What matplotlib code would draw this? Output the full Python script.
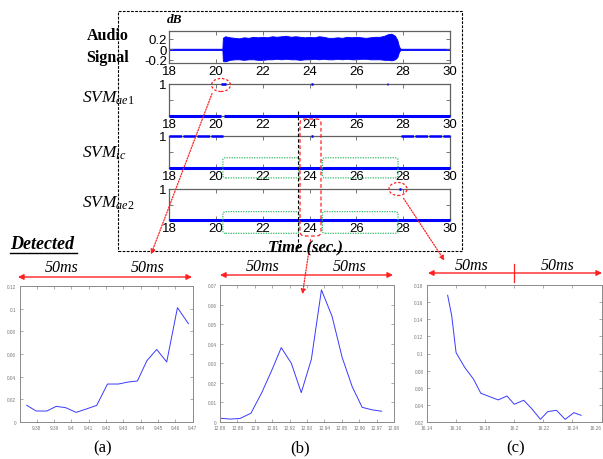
import matplotlib
matplotlib.use('Agg')
import matplotlib.pyplot as plt
from matplotlib.patches import FancyBboxPatch, Ellipse, Rectangle
from matplotlib.lines import Line2D

plt.rcParams['mathtext.fontset'] = 'custom'
plt.rcParams['mathtext.it'] = 'Liberation Serif:italic'
plt.rcParams['mathtext.rm'] = 'Liberation Serif'
plt.rcParams['font.family'] = ['Liberation Sans', 'DejaVu Sans']

# ---------------- data ----------------
time_ticks = [18, 20, 22, 24, 26, 28, 30]
time_labels = ['18', '20', '22', '24', '26', '28', '30']

audio_t = [18, 20.28, 20.30, 20.4, 20.6, 20.8, 21.0, 21.2, 21.4, 21.6, 21.8, 22.0,
           22.2, 22.4, 22.6, 22.8, 23.0, 23.2, 23.4, 23.6, 23.8, 24.0, 24.2, 24.4,
           24.6, 24.8, 25.0, 25.2, 25.4, 25.6, 25.8, 26.0, 26.2, 26.4, 26.6, 26.8,
           27.0, 27.2, 27.35, 27.5, 27.65, 27.75, 27.82, 27.88, 30]
audio_hi = [0.012, 0.012, 0.22, 0.25, 0.23, 0.22, 0.21, 0.23, 0.22, 0.24, 0.23, 0.24,
            0.23, 0.25, 0.24, 0.25, 0.26, 0.24, 0.25, 0.24, 0.23, 0.24, 0.23, 0.25,
            0.24, 0.22, 0.22, 0.23, 0.22, 0.24, 0.23, 0.24, 0.23, 0.22, 0.23, 0.24,
            0.24, 0.26, 0.29, 0.30, 0.26, 0.18, 0.06, 0.012, 0.012]
audio_lo = [-0.012, -0.012, -0.22, -0.23, -0.20, -0.19, -0.19, -0.20, -0.19, -0.19, -0.20, -0.20,
            -0.19, -0.19, -0.18, -0.19, -0.18, -0.19, -0.19, -0.20, -0.19, -0.19, -0.18, -0.19,
            -0.18, -0.19, -0.19, -0.18, -0.19, -0.18, -0.19, -0.19, -0.18, -0.18, -0.19, -0.19,
            -0.19, -0.20, -0.20, -0.21, -0.19, -0.15, -0.05, -0.012, -0.012]

svm_ae1_high = [(20.2, 20.42), (24.08, 24.16), (27.3, 27.36)]
svm_ae1_low = [(18, 20.22), (20.36, 30)]
svm_ic_high = [(18, 20.3), (24.08, 24.14), (27.9, 30)]
svm_ic_low = [(18, 30)]
svm_ae2_high = [(27.82, 27.9)]
svm_ae2_low = [(18, 30)]

green_boxes = [(20.3, 23.55), (24.55, 27.78)]

a_x = [9.3742, 9.3796, 9.3858, 9.3912, 9.3967, 9.4027, 9.4092, 9.4146, 9.4208,
       9.4271, 9.4329, 9.4381, 9.4435, 9.4492, 9.4550, 9.4612, 9.4675]
a_y = [0.0147, 0.0097, 0.0097, 0.0138, 0.0126, 0.0085, 0.0118, 0.0147, 0.0335,
       0.0335, 0.0353, 0.0362, 0.0540, 0.0640, 0.0530, 0.1009, 0.0868]
a_xticks = [9.38, 9.39, 9.40, 9.41, 9.42, 9.43, 9.44, 9.45, 9.46, 9.47]
a_xlabels = ['9.38', '9.39', '9.4', '9.41', '9.42', '9.43', '9.44', '9.45', '9.46', '9.47']
a_yticks = [0, 0.02, 0.04, 0.06, 0.08, 0.10, 0.12]
a_ylabels = ['0', '0.02', '0.04', '0.06', '0.08', '0.1', '0.12']

b_x = [12.8806, 12.8858, 12.8915, 12.8978, 12.9040, 12.9098, 12.9152, 12.9210, 12.9267,
       12.9325, 12.9383, 12.9444, 12.9502, 12.9560, 12.9617, 12.9675, 12.9729]
b_y = [0.0019, 0.0015, 0.0018, 0.0045, 0.0150, 0.0265, 0.0380, 0.0300, 0.0150,
       0.0320, 0.0675, 0.0540, 0.0330, 0.0180, 0.0075, 0.0062, 0.0055]
b_xticks = [12.88, 12.89, 12.90, 12.91, 12.92, 12.93, 12.94, 12.95, 12.96, 12.97, 12.98]
b_xlabels = ['12.88', '12.89', '12.9', '12.91', '12.92', '12.93', '12.94', '12.95',
             '12.96', '12.97', '12.98']
b_yticks = [0, 0.01, 0.02, 0.03, 0.04, 0.05, 0.06, 0.07]
b_ylabels = ['0', '0.01', '0.02', '0.03', '0.04', '0.05', '0.06', '0.07']

c_x = [16.1542, 16.1570, 16.1600, 16.1660, 16.1720, 16.1770, 16.1835, 16.1890, 16.1950,
       16.2000, 16.2065, 16.2120, 16.2180, 16.2230, 16.2290, 16.2350, 16.2410, 16.2460]
c_y = [0.168, 0.144, 0.101, 0.0836, 0.070, 0.0536, 0.0493, 0.0458, 0.0504,
       0.0407, 0.0454, 0.0356, 0.0231, 0.0321, 0.0337, 0.0231, 0.0309, 0.0278]
c_xticks = [16.14, 16.16, 16.18, 16.20, 16.22, 16.24, 16.26]
c_xlabels = ['16.14', '16.16', '16.18', '16.2', '16.22', '16.24', '16.26']
c_yticks = [0.02, 0.04, 0.06, 0.08, 0.10, 0.12, 0.14, 0.16, 0.18]
c_ylabels = ['0.02', '0.04', '0.06', '0.08', '0.1', '0.12', '0.14', '0.16', '0.18']

# ---------------- layout helpers ----------------
W, H = 603, 460
fig = plt.figure(figsize=(6.03, 4.60), dpi=100)


def fx(x):
    return x / W


def fy(y):
    return 1 - y / H


def ax_px(x0, y0, x1, y1):
    return fig.add_axes([x0 / W, 1 - y1 / H, (x1 - x0) / W, (y1 - y0) / H])


SERIF = ['Liberation Serif', 'DejaVu Serif']
BLUE = '#0000ff'
RED = '#ff2020'

# ---------------- top panel ----------------
top_x0, top_x1 = 169, 450
rows = [(32, 64), (85, 117), (137, 169), (190, 221)]


def style_top(ax):
    ax.set_xlim(18, 30)
    ax.set_xticks(time_ticks)
    ax.set_xticklabels(time_labels)
    for s in ax.spines.values():
        s.set_color('#606060')
        s.set_linewidth(0.9)
    ax.tick_params(direction='in', length=3, width=0.6, top=True, right=True,
                   labelsize=9.5, pad=1.5, colors='#606060', labelcolor='black')
    for lab in ax.get_xticklabels() + ax.get_yticklabels():
        lab.set_fontfamily('Liberation Sans')


ax0 = ax_px(top_x0, rows[0][0], top_x1, rows[0][1])
ax0.fill_between(audio_t, audio_lo, audio_hi, color=BLUE, lw=0.6, edgecolor=BLUE)
ax0.set_ylim(-0.26, 0.35)
ax0.set_yticks([-0.2, 0, 0.2])
ax0.set_yticklabels(['-0.2', '0', '0.2'])
style_top(ax0)

svm_sets = [(svm_ae1_high, svm_ae1_low), (svm_ic_high, svm_ic_low), (svm_ae2_high, svm_ae2_low)]
svm_axes = []
for i, (hi, lo) in enumerate(svm_sets):
    ax = ax_px(top_x0, rows[i + 1][0], top_x1, rows[i + 1][1])
    for (s, e) in lo:
        ax.plot([s, e], [0, 0], color=BLUE, lw=2.2, solid_capstyle='butt', clip_on=False, zorder=3)
    for (s, e) in hi:
        ls = (0, (5, 0.6)) if (e - s) > 1 else '-'
        ax.plot([s, e], [1, 1], color=BLUE, lw=1.8, linestyle=ls, solid_capstyle='butt',
                clip_on=False, zorder=3)
    ax.set_ylim(0, 1)
    ax.set_yticks([0, 0.5, 1])
    ax.set_yticklabels(['', '', '1'])
    style_top(ax)
    svm_axes.append(ax)

# green dotted rounded boxes on SVM_ic and SVM_ae2
for ax, (yb, yt) in [(svm_axes[1], (-0.31, 0.32)), (svm_axes[2], (-0.43, 0.27))]:
    for (s, e) in green_boxes:
        p = FancyBboxPatch((s, yb), e - s, yt - yb,
                           boxstyle='round,pad=0,rounding_size=0.12', mutation_aspect=0.6,
                           transform=ax.transData, fill=False, edgecolor='#33bb66',
                           linestyle=(0, (1, 1)), lw=0.9, clip_on=False, zorder=4)
        ax.add_patch(p)

# outer dashed box
fig.add_artist(Rectangle((fx(118), fy(252)), (462 - 118) / W, (252 - 12) / H,
                         transform=fig.transFigure, fill=False, edgecolor='black',
                         linestyle=(0, (2.5, 1.2)), lw=0.8))

# black dashed vertical line and red dashed box around 24
fig.add_artist(Line2D([fx(298), fx(298)], [fy(112), fy(250)], transform=fig.transFigure,
                      color='black', lw=0.8, linestyle=(0, (3, 2))))
fig.add_artist(FancyBboxPatch((fx(300), fy(237)), 21 / W, (237 - 120) / H,
                              boxstyle='round,pad=0,rounding_size=0.008', mutation_aspect=1.3,
                              transform=fig.transFigure, fill=False, edgecolor=RED,
                              linestyle=(0, (3, 2)), lw=0.9))

# red ellipses
fig.add_artist(Ellipse((fx(221), fy(86)), 19 / W, 13 / H, transform=fig.transFigure,
                       fill=False, edgecolor=RED, linestyle=(0, (2, 1.5)), lw=0.9))
fig.add_artist(Ellipse((fx(398), fy(190)), 18 / W, 13 / H, transform=fig.transFigure,
                       fill=False, edgecolor=RED, linestyle=(0, (2, 1.5)), lw=0.9))

# dotted red arrows
for (x0, y0, x1, y1) in [(213, 92, 150, 258), (311, 238, 302, 298), (402, 197, 446, 264)]:
    fig.add_artist(matplotlib.patches.FancyArrowPatch(
        (fx(x0), fy(y0)), (fx(x1), fy(y1)), transform=fig.transFigure,
        arrowstyle='-|>', mutation_scale=7, color=RED, lw=0.9, linestyle=(0, (1, 1.2))))

# labels of the top panel
fig.text(fx(108), fy(36), 'Audio', fontfamily=SERIF, fontweight='bold', fontsize=11.5,
         ha='center', va='center')
fig.text(fx(108), fy(58), 'Signal', fontfamily=SERIF, fontweight='bold', fontsize=11.5,
         ha='center', va='center')
for txt, yy in [(r'$SVM_{ae1}$', 98), (r'$SVM_{ic}$', 153), (r'$SVM_{ae2}$', 203)]:
    fig.text(fx(82), fy(yy), txt, fontsize=12.5, ha='left', va='center')
fig.text(fx(167), fy(20), 'dB', fontfamily=SERIF, fontweight='bold', fontstyle='italic',
         fontsize=9.5, ha='left', va='center')
fig.text(fx(305), fy(247), 'Time (sec.)', fontfamily=SERIF, fontweight='bold',
         fontstyle='italic', fontsize=12, ha='center', va='center')

fig.text(fx(10), fy(245), 'Detected', fontfamily=SERIF, fontweight='bold',
         fontstyle='italic', fontsize=13, ha='left', va='center')
fig.add_artist(Line2D([fx(10), fx(77)], [fy(254), fy(254)], transform=fig.transFigure,
                      color='black', lw=1.0))

# ---------------- bottom panels ----------------
bottom = [
    ((19.5, 287, 192.7, 423), a_x, a_y, (9.37, 9.47), (0, 0.12), a_xticks, a_xlabels, a_yticks, a_ylabels),
    ((220, 286, 394, 423), b_x, b_y, (12.88, 12.98), (0, 0.07), b_xticks, b_xlabels, b_yticks, b_ylabels),
    ((427, 286, 601.5, 423), c_x, c_y, (16.14, 16.26), (0.02, 0.18), c_xticks, c_xlabels, c_yticks, c_ylabels),
]
bottom_axes = []
for (pos, xs, ys, xl, yl, xt, xtl, yt, ytl) in bottom:
    ax = ax_px(*pos)
    ax.plot(xs, ys, color='#3a3aff', lw=0.7)
    ax.set_xlim(*xl)
    ax.set_ylim(*yl)
    ax.set_xticks(xt)
    ax.set_xticklabels(xtl)
    ax.set_yticks(yt)
    ax.set_yticklabels(ytl)
    for s in ax.spines.values():
        s.set_color('#8a8a8a')
        s.set_linewidth(0.7)
    ax.tick_params(direction='in', length=2, width=0.5, top=True, right=True,
                   labelsize=3.4, pad=2.5, colors='#8a8a8a', labelcolor='#777777')
    bottom_axes.append(ax)

# keep the last tick label of (c) inside the picture
bottom_axes[2].get_xticklabels()[-1].set_horizontalalignment('right')

# 50ms double arrows
arrows = [(18, 192, 278, 62, 148, 268, 103, False),
          (220, 393, 276, 263, 350, 267, 306, False),
          (428, 602, 274, 472, 558, 266, 514, True)]
for (x0, x1, y, t1, t2, ty, mid, tick) in arrows:
    fig.add_artist(matplotlib.patches.FancyArrowPatch(
        (fx(x0), fy(y)), (fx(x1), fy(y)), transform=fig.transFigure,
        arrowstyle='<|-|>', mutation_scale=8, color=RED, lw=1.0, shrinkA=0, shrinkB=0))
    if tick:
        fig.add_artist(Line2D([fx(mid), fx(mid)], [fy(265), fy(283)], transform=fig.transFigure,
                              color=RED, lw=0.9))
    for tx in (t1, t2):
        fig.text(fx(tx), fy(ty), '50ms', fontfamily=SERIF, fontstyle='italic', fontsize=11.5,
                 ha='center', va='center')

for lab, xx in [('(a)', 103), ('(b)', 300), ('(c)', 516)]:
    fig.text(fx(xx), fy(448), lab, fontfamily=SERIF, fontsize=12, ha='center', va='center')

fig.savefig('out.png', dpi=100)
